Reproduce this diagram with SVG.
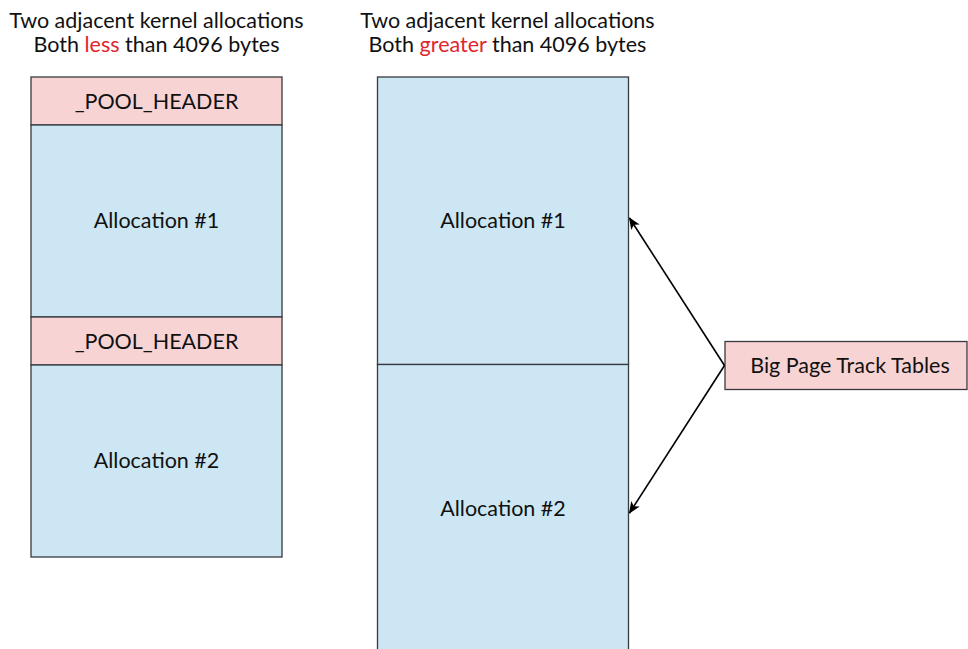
<svg xmlns="http://www.w3.org/2000/svg" width="968" height="649" viewBox="0 0 968 649">
<style>
.pink{fill:#f8d3d4;stroke:#36393d;stroke-width:1.3}
.blue{fill:#cce6f4;stroke:#36393d;stroke-width:1.3}
text{font-family:Lato,"Liberation Sans",sans-serif;font-size:21.5px;fill:#111;text-anchor:middle}
.red{fill:#e0262c}
.conn{stroke:#000;stroke-width:1.6;fill:none;marker-end:url(#ah)}
</style>
<defs>
<marker id="ah" viewBox="0 0 12 10" refX="11" refY="5" markerWidth="12" markerHeight="10" markerUnits="userSpaceOnUse" orient="auto">
<path d="M0,0 L12,5 L0,10 L3,5 Z" fill="#000"/>
</marker>
</defs>
<rect width="968" height="649" fill="#fff"/>
<g id="title-left">
<text x="156.5" y="27.5">Two adjacent kernel allocations</text>
<text x="156.5" y="52">Both <tspan class="red">less</tspan> than 4096 bytes</text>
</g>
<g id="title-right">
<text x="507.5" y="27.5">Two adjacent kernel allocations</text>
<text x="507.5" y="52">Both <tspan class="red">greater</tspan> than 4096 bytes</text>
</g>
<g id="left-header1"><rect class="pink" x="31" y="77" width="251" height="48"/><text x="156.5" y="109">_POOL_HEADER</text></g>
<g id="left-alloc1"><rect class="blue" x="31" y="125" width="251" height="192"/><text x="156.5" y="227.5">Allocation #1</text></g>
<g id="left-header2"><rect class="pink" x="31" y="317" width="251" height="48"/><text x="156.5" y="349">_POOL_HEADER</text></g>
<g id="left-alloc2"><rect class="blue" x="31" y="365" width="251" height="192"/><text x="156.5" y="468">Allocation #2</text></g>
<g id="right-alloc1"><rect class="blue" x="377.5" y="77" width="251" height="287.5"/><text x="503" y="227.5">Allocation #1</text></g>
<g id="right-alloc2"><rect class="blue" x="377.5" y="364.5" width="251" height="340"/><text x="503" y="516">Allocation #2</text></g>
<g id="big-page"><rect class="pink" x="725" y="341.5" width="242" height="48"/><text x="850" y="373">Big Page Track Tables</text></g>
<g id="connectors">
<path class="conn" d="M724.5,365.5 L629.5,218"/>
<path class="conn" d="M724.5,365.5 L629.5,513"/>
</g>
</svg>
